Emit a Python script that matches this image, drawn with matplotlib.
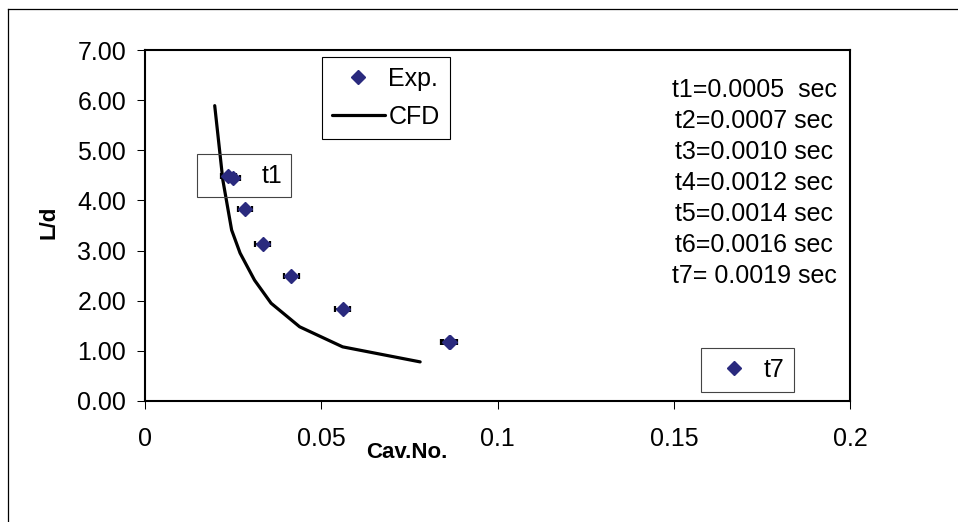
import matplotlib
matplotlib.use("Agg")
import matplotlib.pyplot as plt
from matplotlib.lines import Line2D
from matplotlib.patches import Rectangle

plt.rcParams['font.family'] = ['Liberation Sans', 'DejaVu Sans']

# Experimental points (cavitation number vs. L/d)
cav_exp = [0.0235, 0.0249, 0.0283, 0.0333, 0.0414, 0.0560, 0.0861, 0.0865]
ld_exp = [4.49, 4.45, 3.83, 3.13, 2.49, 1.84, 1.17, 1.17]
exp_err = [0.0021, 0.0021, 0.0021, 0.0021, 0.0021, 0.0021, 0.0021, 0.0021]

# CFD curve
cav_cfd = [0.0197, 0.0220, 0.0245, 0.0269, 0.0310, 0.0357, 0.0438, 0.0560, 0.0780]
ld_cfd = [5.89, 4.41, 3.41, 2.95, 2.41, 1.95, 1.48, 1.08, 0.78]

# Time annotations
time_labels = ["t1=0.0005  sec", "t2=0.0007 sec", "t3=0.0010 sec", "t4=0.0012 sec",
               "t5=0.0014 sec", "t6=0.0016 sec", "t7= 0.0019 sec"]

x_ticks = [0, 0.05, 0.1, 0.15, 0.2]
x_ticklabels = ["0", "0.05", "0.1", "0.15", "0.2"]
y_ticks = [0, 1, 2, 3, 4, 5, 6, 7]
y_ticklabels = ["0.00", "1.00", "2.00", "3.00", "4.00", "5.00", "6.00", "7.00"]

W, H = 958, 522
navy = '#2a2a7e'


def fx(px):
    return px / W


def fy(py):
    return 1 - py / H


fig = plt.figure(figsize=(W / 100, H / 100), dpi=100)

# outer chart frame (only left and top visible)
fig.add_artist(Line2D([fx(8), fx(958)], [fy(9), fy(9)], color='black', lw=0.9))
fig.add_artist(Line2D([fx(8), fx(8)], [fy(9), fy(522)], color='black', lw=0.9))

ax = fig.add_axes([fx(145.3), fy(401), fx(850) - fx(145.3), fy(50) - fy(401)])

ax.errorbar(cav_exp, ld_exp, xerr=exp_err, fmt='none', ecolor='black',
            elinewidth=1.2, capsize=2.5, capthick=1.6, zorder=3)
ax.plot(cav_exp, ld_exp, linestyle='none', marker='D', markersize=7.6,
        color=navy, markeredgecolor=navy, zorder=4, label='Exp.')
ax.plot(cav_cfd, ld_cfd, color='black', lw=2.3, solid_joinstyle='round',
        solid_capstyle='round', zorder=2, label='CFD')

ax.set_xlim(0, 0.2)
ax.set_ylim(0, 7)
ax.set_xticks(x_ticks)
ax.set_xticklabels(x_ticklabels)
ax.set_yticks(y_ticks)
ax.set_yticklabels(y_ticklabels)
ax.tick_params(axis='both', direction='out', length=5.8, width=0.75,
               labelsize=18, color='black')
ax.tick_params(axis='y', pad=8)
ax.tick_params(axis='x', pad=13)
for sp in ax.spines.values():
    sp.set_linewidth(1.5)
    sp.set_color('black')

# axis titles
fig.text(fx(48.5), fy(222), "L/d", rotation=90, fontsize=16, fontweight='bold',
         ha='center', va='center')
fig.text(fx(366), fy(452), "Cav.No.", fontsize=16, fontweight='bold',
         ha='left', va='center')

# main legend
leg = ax.legend(loc='upper left', bbox_to_anchor=(fx(322), fy(57)),
                bbox_transform=fig.transFigure, borderaxespad=0, fontsize=18,
                frameon=True, fancybox=False, edgecolor='black', framealpha=1,
                numpoints=1, handlelength=2.1, handletextpad=0.15,
                borderpad=0.4, labelspacing=0.55)
leg.get_frame().set_linewidth(0.8)
ax.add_artist(leg)

# t7 legend-like box
t7_handle = Line2D([], [], linestyle='none', marker='D', markersize=7.6,
                   color=navy, markeredgecolor=navy)
leg2 = ax.legend([t7_handle], ["t7"], loc='upper left',
                 bbox_to_anchor=(fx(700.7), fy(347.7)),
                 bbox_transform=fig.transFigure, borderaxespad=0, fontsize=18,
                 frameon=True, fancybox=False, edgecolor='#444444', framealpha=1,
                 numpoints=1, handlelength=1.85, handletextpad=0.25, borderpad=0.4)
leg2.get_frame().set_linewidth(0.8)

# t1 label box
fig.add_artist(Rectangle((fx(196.7), fy(196.7)), fx(290.7) - fx(196.7),
                         fy(154.3) - fy(196.7), fill=False, edgecolor='#444444',
                         lw=0.8, zorder=5))
fig.text(fx(262), fy(176), "t1", fontsize=18, ha='left', va='center')

# time list
for i, s in enumerate(time_labels):
    fig.text(fx(754), fy(90 + i * 31), s, fontsize=18, ha='center', va='center')

fig.savefig("out.png", dpi=100)
